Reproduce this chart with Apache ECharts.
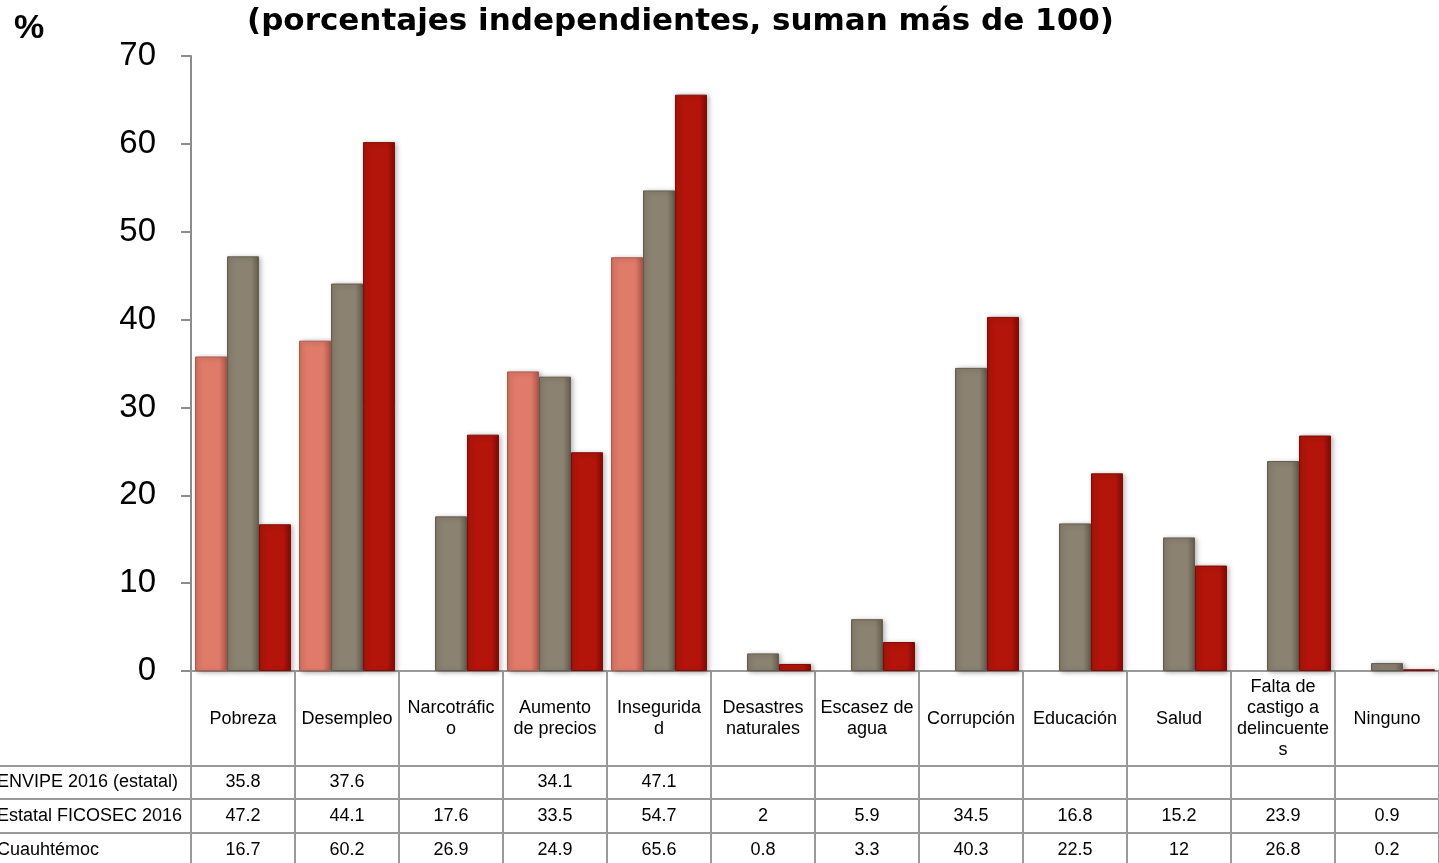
<!DOCTYPE html>
<html>
<head>
<meta charset="utf-8">
<script src="https://cdn.jsdelivr.net/npm/echarts@6/dist/echarts.min.js"></script>
<style>
  html, body { margin: 0; padding: 0; background: #fff; }
  #chart { width: 1439px; height: 863px; }
</style>
</head>
<body>
<div id="chart"></div>
<script>
const categories = ['Pobreza', 'Desempleo', 'Narcotráfic\no', 'Aumento\nde precios', 'Insegurida\nd', 'Desastres\nnaturales', 'Escasez de\nagua', 'Corrupción', 'Educación', 'Salud', 'Falta de\ncastigo a\ndelincuente\ns', 'Ninguno']
const seriesNames = ['ENVIPE 2016 (estatal)', 'Estatal FICOSEC 2016', 'Cuauhtémoc']
const envipe = [35.8, 37.6, null, 34.1, 47.1, null, null, null, null, null, null, null]
const ficosec = [47.2, 44.1, 17.6, 33.5, 54.7, 2, 5.9, 34.5, 16.8, 15.2, 23.9, 0.9]
const cuauhtemoc = [16.7, 60.2, 26.9, 24.9, 65.6, 0.8, 3.3, 40.3, 22.5, 12, 26.8, 0.2]
const yTicks = { min: 0, max: 70, interval: 10 }

const FONT = 'Liberation Sans, Arial, sans-serif'
const LINE = '#9a9a9a'

function barGradient(edge, body, dark) {
  return new echarts.graphic.LinearGradient(0, 0, 1, 0, [
    { offset: 0, color: edge },
    { offset: 0.1, color: body },
    { offset: 0.75, color: body },
    { offset: 1, color: dark }
  ])
}

// one table row under the plot: an x axis with offset, values as labels
function rowAxis(values, name, offset, tickLen) {
  return {
    type: 'category',
    gridIndex: 0,
    data: categories,
    position: 'bottom',
    offset: offset,
    axisLine: { onZero: false, lineStyle: { color: LINE, width: 2 }},
    axisTick: { show: true, length: tickLen, interval: 0, lineStyle: { color: LINE, width: 2 }},
    axisLabel: {
      interval: 0,
      margin: tickLen / 2,
      verticalAlign: 'middle',
      fontFamily: FONT,
      fontSize: 18,
      color: '#000',
      formatter: (v, i) => (values[i] === null ? '' : String(values[i]))
    },
    name: name,
    nameLocation: 'start',
    nameGap: 194,
    nameTextStyle: {
      align: 'left',
      verticalAlign: 'top',
      lineHeight: tickLen,
      fontFamily: FONT,
      fontSize: 18,
      color: '#000'
    }
  }
}

// left part of the row lines, under the y axis labels
function leftLine(offset) {
  return {
    type: 'category',
    gridIndex: 1,
    data: [''],
    position: 'bottom',
    offset: offset,
    axisLine: { onZero: false, lineStyle: { color: LINE, width: 2 }},
    axisTick: { show: false },
    axisLabel: { show: false }
  }
}

const barStyles = [
  { color: barGradient('#c96a5a', '#e07b6a', '#b0584a'), borderColor: '#b05a4c' },
  { color: barGradient('#7a7262', '#8c8271', '#665e50'), borderColor: '#645c4e' },
  { color: barGradient('#9c1208', '#b3150a', '#800b05'), borderColor: '#820c05' }
]
const seriesData = [envipe, ficosec, cuauhtemoc]

const option = {
  backgroundColor: '#fff',
  animation: false,
  title: [
    {
      text: '(porcentajes independientes, suman más de 100)',
      left: 242,
      top: 1,
      textStyle: { fontFamily: 'DejaVu Sans', fontSize: 31, fontWeight: 'bold', color: '#000' }
    },
    {
      text: '%',
      left: 9,
      top: 7,
      textStyle: { fontFamily: FONT, fontSize: 34, fontWeight: 'bold', color: '#000' }
    }
  ],
  grid: [
    { left: 191, right: 0, top: 56, bottom: 192, outerBoundsMode: 'none' },
    { left: 0, width: 191, top: 56, bottom: 192, outerBoundsMode: 'none' }
  ],
  xAxis: [
    {
      type: 'category',
      gridIndex: 0,
      data: categories,
      position: 'bottom',
      axisLine: { onZero: false, lineStyle: { color: LINE, width: 2 }},
      axisTick: { show: true, length: 95, interval: 0, lineStyle: { color: LINE, width: 2 }},
      axisLabel: {
        interval: 0,
        margin: 48,
        verticalAlign: 'middle',
        lineHeight: 21,
        fontFamily: FONT,
        fontSize: 18,
        color: '#000'
      }
    },
    rowAxis(envipe, seriesNames[0], 95, 33),
    rowAxis(ficosec, seriesNames[1], 128, 34),
    rowAxis(cuauhtemoc, seriesNames[2], 162, 34),
    leftLine(95),
    leftLine(128),
    leftLine(162)
  ],
  yAxis: [
    {
      type: 'value',
      gridIndex: 0,
      min: yTicks.min,
      max: yTicks.max,
      interval: yTicks.interval,
      axisLine: { show: true, lineStyle: { color: '#8c8c8c', width: 2 }},
      axisTick: { show: true, length: 10, lineStyle: { color: '#8c8c8c', width: 2 }},
      splitLine: { show: false },
      axisLabel: { margin: 35, fontFamily: FONT, fontSize: 33, color: '#000' }
    },
    { type: 'value', gridIndex: 1, show: false }
  ],
  series: seriesNames.map((name, k) => ({
    name: name,
    type: 'bar',
    xAxisIndex: 0,
    yAxisIndex: 0,
    data: seriesData[k],
    barGap: '0%',
    barCategoryGap: '7.7%',
    itemStyle: {
      color: barStyles[k].color,
      borderColor: barStyles[k].borderColor,
      borderWidth: 1,
      shadowColor: 'rgba(0,0,0,0.35)',
      shadowBlur: 5,
      shadowOffsetX: 2,
      shadowOffsetY: 1
    }
  }))
}

const chart = echarts.init(document.getElementById('chart'))
chart.setOption(option)
</script>
</body>
</html>
